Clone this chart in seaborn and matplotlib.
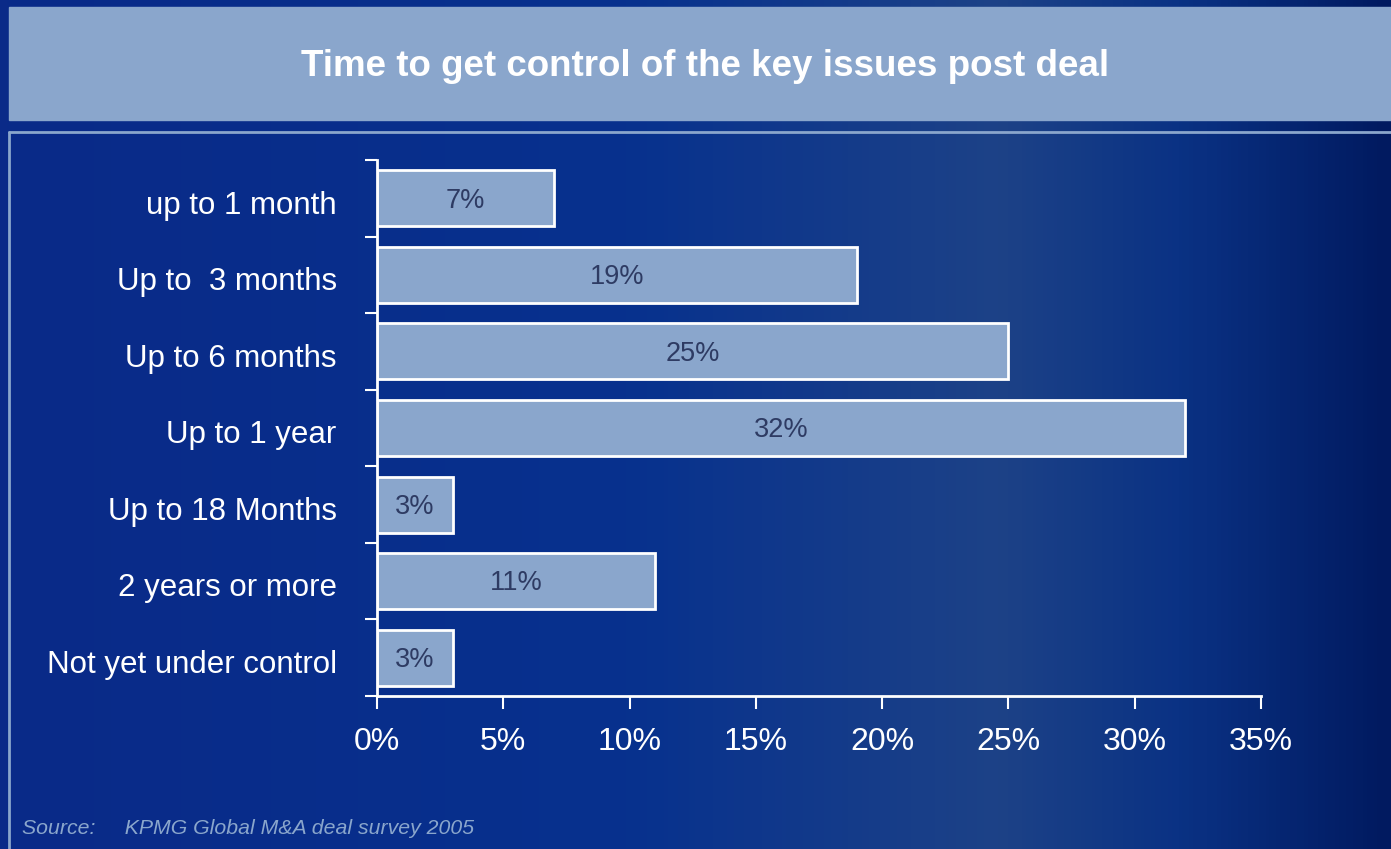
import numpy as np
import pandas as pd
import matplotlib
matplotlib.use("Agg")
import matplotlib.pyplot as plt
import seaborn as sns
from matplotlib.colors import LinearSegmentedColormap
from matplotlib.patches import Rectangle
from matplotlib.lines import Line2D

categories = ["up to 1 month", "Up to  3 months", "Up to 6 months", "Up to 1 year",
              "Up to 18 Months", "2 years or more", "Not yet under control"]
values = [7, 19, 25, 32, 3, 11, 3]
xticks = [0, 5, 10, 15, 20, 25, 30, 35]
title = "Time to get control of the key issues post deal"
source = "Source:     KPMG Global M&A deal survey 2005"

sns.set_theme(style="white")
plt.rcParams['font.family'] = ['Liberation Sans', 'DejaVu Sans']

fig = plt.figure(figsize=(13.91, 8.49), dpi=100)

# background gradient
bg = fig.add_axes([0, 0, 1, 1], zorder=-10)
bg.set_axis_off()
cmap = LinearSegmentedColormap.from_list("bg", [
    (0.0, "#0a2a88"), (0.45, "#07318e"), (0.72, "#1d4287"),
    (0.85, "#0a3284"), (1.0, "#011a60")])
grad = np.tile(np.linspace(0, 1, 400), (50, 1))
bg.imshow(grad, aspect="auto", cmap=cmap, extent=[0, 1, 0, 1])
bg.set_xlim(0, 1); bg.set_ylim(0, 1)
# title banner
bg.add_patch(Rectangle((9/1391, 1-120/849), 1, 113/849, color="#8aa6cc", zorder=2))
bg.text(705/1391, 1-67/849, title, color="white", fontsize=26.5, fontweight="bold",
        ha="center", va="center", zorder=3)
# panel frame lines
bg.add_line(Line2D([9/1391, 1], [1-132/849, 1-132/849], color="#8aa6cc", lw=2, zorder=3))
bg.add_line(Line2D([9/1391, 9/1391], [0, 1-132/849], color="#8aa6cc", lw=2, zorder=3))
bg.text(22/1391, 1-828/849, source, color="#8aa6cc", fontsize=15.3, style="italic",
        ha="left", va="center", zorder=3)

ax = fig.add_axes([377/1391, 1-696/849, 884/1391, 536/849])
ax.patch.set_alpha(0)
df = pd.DataFrame({"cat": categories, "val": values})
sns.barplot(data=df, x="val", y="cat", orient="h", ax=ax, color="#8aa6cc",
            edgecolor="white", linewidth=2, width=0.73, saturation=1)

for i, v in enumerate(values):
    ax.text(v / 2, i + 0.03, f"{v}%", ha="center", va="center", color="#2e3b63", fontsize=19.5)

ax.set_xlim(0, 35)
ax.set_ylim(len(categories) - 0.5, -0.5)
ax.set_xticks(xticks)
ax.set_xticklabels([f"{t}%" for t in xticks], color="white", fontsize=23)
ax.set_yticks(np.arange(-0.5, len(categories)), labels=[""] * (len(categories) + 1))
ax.set_yticks(np.arange(len(categories)) + 0.05, minor=True)
ax.set_yticklabels(categories, minor=True, color="white", fontsize=22.5)
ax.tick_params(axis="y", which="major", direction="out", length=9, width=1.5, color="white", left=True)
ax.tick_params(axis="y", which="minor", length=0, pad=29)
ax.tick_params(axis="x", direction="out", length=9, width=1.5, color="white", bottom=True, pad=13)
ax.set_xlabel(""); ax.set_ylabel("")
for s in ["top", "right"]:
    ax.spines[s].set_visible(False)
for s in ["left", "bottom"]:
    ax.spines[s].set_color("white")
    ax.spines[s].set_linewidth(2)

fig.savefig("out.png", dpi=100)
